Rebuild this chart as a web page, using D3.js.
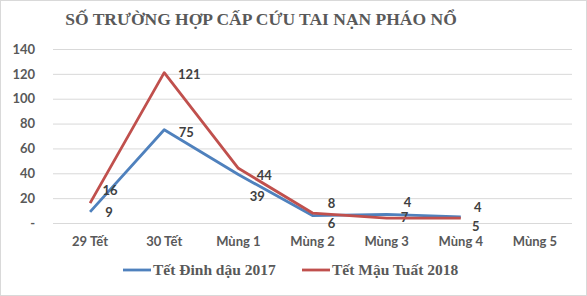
<!DOCTYPE html>
<html>
<head>
<meta charset="utf-8">
<script src="https://cdn.jsdelivr.net/npm/d3@7"></script>
<style>
  body { margin: 0; background: #fff; }
  svg { display: block; }
</style>
</head>
<body>
<svg width="587" height="296"></svg>
<script>
// data
let categories = ["29 Tết", "30 Tết", "Mùng 1", "Mùng 2", "Mùng 3", "Mùng 4", "Mùng 5"]
let seriesNames = ["Tết Đinh dậu 2017", "Tết Mậu Tuất 2018"]
let values2017 = [9, 75, 39, 6, 7, 5, null]
let values2018 = [16, 121, 44, 8, 4, 4, null]
let yTicks = [0, 20, 40, 60, 80, 100, 120, 140]

// label nudges (style, not data)
let labelOffsets2017 = [[19, 1], [22, 3], [19, 22], [19, 8], [18, 3], [15, 10], null]
let labelOffsets2018 = [[20, -13], [25, 2], [26, 7], [19, -10], [21, -16], [17, -11], null]

let colors = ["#4f81bd", "#c0504d"]

let svg = d3.select("svg")
let margin = {top: 49, right: 15, bottom: 73, left: 53}
let width = 587 - margin.left - margin.right
let height = 296 - margin.top - margin.bottom

svg.append("rect")
    .attr("x", 0.5).attr("y", 0.5)
    .attr("width", 586).attr("height", 295)
    .attr("fill", "#fff")
    .attr("stroke", "#d9d9d9")

let x = d3.scaleBand().domain(categories).range([0, width])
let y = d3.scaleLinear().domain([0, 140]).range([height, 0])

let g = svg.append("g")
    .attr("transform", "translate(" + margin.left + "," + margin.top + ")")

// gridlines
g.selectAll(".grid")
  .data(yTicks)
  .enter().append("line")
    .attr("x1", 0).attr("x2", width)
    .attr("y1", d => y(d) + 0.5).attr("y2", d => y(d) + 0.5)
    .attr("stroke", "#d9d9d9")
    .attr("stroke-width", 1)

// y axis
let yAxis = g.append("g")
    .call(d3.axisLeft(y).tickValues(yTicks).tickSize(0).tickPadding(18)
      .tickFormat(d => d === 0 ? "-" : d))
yAxis.select(".domain").remove()
yAxis.selectAll("text")
    .attr("font-family", "Lato, sans-serif")
    .attr("font-weight", "bold")
    .attr("font-size", 13)
    .attr("fill", "#595959")

// x axis
let xAxis = g.append("g")
    .attr("transform", "translate(0," + height + ")")
    .call(d3.axisBottom(x).tickSize(0).tickPadding(14))
xAxis.select(".domain").remove()
xAxis.selectAll("text")
    .attr("font-family", "Lato, sans-serif")
    .attr("font-weight", "bold")
    .attr("font-size", 13)
    .attr("fill", "#595959")

let cx = d => x(d) + x.bandwidth() / 2

let series = [
  {name: seriesNames[0], values: values2017, offsets: labelOffsets2017, color: colors[0]},
  {name: seriesNames[1], values: values2018, offsets: labelOffsets2018, color: colors[1]}
]

let line = d3.line()
    .defined(d => d.v !== null)
    .x(d => cx(d.c))
    .y(d => y(d.v))

series.forEach(s => {
  let pts = categories.map((c, i) => ({c: c, v: s.values[i], off: s.offsets[i]}))
  g.append("path")
      .datum(pts)
      .attr("fill", "none")
      .attr("stroke", s.color)
      .attr("stroke-width", 2.8)
      .attr("stroke-linejoin", "round")
      .attr("d", line)

  g.selectAll(null)
    .data(pts.filter(d => d.v !== null))
    .enter().append("text")
      .attr("x", d => cx(d.c) + d.off[0])
      .attr("y", d => y(d.v) + d.off[1])
      .attr("dy", "0.35em")
      .attr("text-anchor", "middle")
      .attr("font-family", "Lato, sans-serif")
      .attr("font-weight", "bold")
      .attr("font-size", 13)
      .attr("fill", "#404040")
      .text(d => d.v)
})

// title
svg.append("text")
    .attr("x", 261)
    .attr("y", 25)
    .attr("text-anchor", "middle")
    .attr("font-family", "Liberation Serif, serif")
    .attr("font-weight", "bold")
    .attr("font-size", 17.5)
    .attr("fill", "#595959")
    .text("SỐ TRƯỜNG HỢP CẤP CỨU TAI NẠN PHÁO NỔ")

// legend
let legendX = [123, 302]
let legend = svg.selectAll(".legend")
  .data(series)
  .enter().append("g")
    .attr("transform", (d, i) => "translate(" + legendX[i] + ",270)")
legend.append("line")
    .attr("x1", 0).attr("x2", 28)
    .attr("stroke", d => d.color)
    .attr("stroke-width", 2.8)
legend.append("text")
    .attr("x", 30)
    .attr("dy", "0.35em")
    .attr("font-family", "Liberation Serif, serif")
    .attr("font-weight", "bold")
    .attr("font-size", 15.5)
    .attr("fill", "#595959")
    .text(d => d.name)
</script>
</body>
</html>
